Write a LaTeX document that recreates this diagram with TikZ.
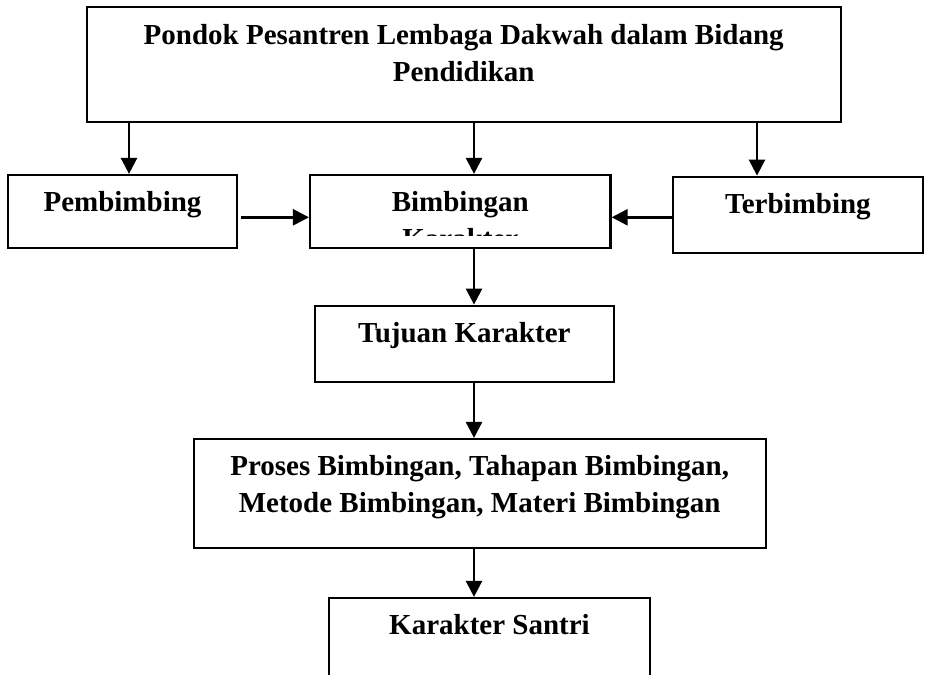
\documentclass[tikz,border=0pt]{standalone}
\usepackage{fontspec}
\setmainfont{Liberation Serif}
\usetikzlibrary{arrows.meta}
\usetikzlibrary{positioning}

\begin{document}
\begin{tikzpicture}[x=1pt, y=-1pt,
  box/.style={draw, line width=2.2pt, rectangle, inner sep=0pt},
  txt/.style={align=center, inner sep=0pt, font=\fontsize{29}{37}\selectfont\bfseries},
  arr/.style={-{Triangle[width=16pt,length=16pt]}, line width=2.5pt}]
\useasboundingbox (0,0) rectangle (925,674);
% boxes
\node[box, minimum width=754, minimum height=114.4] (Pondok) at (463.7,64.5) {};
\node[box, minimum width=228.4, minimum height=73] (Pemb) at (122.5,211.5) {};
\node[box, minimum width=300.5, minimum height=73] (Bimb) at (460.3,211.5) {};
\node[box, minimum width=250.3, minimum height=76] (Terb) at (797.9,214.7) {};
\node[box, minimum width=299.4, minimum height=76] (Tujuan) at (464.3,343.7) {};
\node[box, minimum width=572, minimum height=108.7] (Proses) at (479.7,493.4) {};
\node[box, minimum width=321, minimum height=102] (Santri) at (489.5,649) {};
% texts (two-line texts sit on their last line)
\node[txt, below=75pt of Pondok.north, anchor=base] (PondokT) {Pondok Pesantren Lembaga Dakwah dalam Bidang\\Pendidikan};
\node[txt, below=38pt of Pemb.north, anchor=base] (PembT) {Pembimbing};
\begin{scope}
\clip (Bimb.north west) rectangle ([yshift=-62pt]Bimb.north east);
\node[txt, below=75pt of Bimb.north, anchor=base] (BimbT) {Bimbingan\\Karakter};
\end{scope}
\node[txt, below=38pt of Terb.north, anchor=base] (TerbT) {Terbimbing};
\node[txt, below=38pt of Tujuan.north, anchor=base] (TujuanT) {Tujuan Karakter};
\node[txt, below=75pt of Proses.north, anchor=base] (ProsesT) {Proses Bimbingan, Tahapan Bimbingan,\\Metode Bimbingan, Materi Bimbingan};
\node[txt, below=38pt of Santri.north, anchor=base] (SantriT) {Karakter Santri};
% arrows
\coordinate (colL) at (129,0);
\coordinate (colM) at (474,0);
\coordinate (colR) at (757,0);
\coordinate (rowH) at (0,217.3);
\draw[arr] (Pondok.south -| colL) -- (Pemb.north -| colL);
\draw[arr] (Pondok.south -| colM) -- (Bimb.north -| colM);
\draw[arr] (Pondok.south -| colR) -- (Terb.north -| colR);
\draw[arr, shorten <=3pt] (Pemb.east |- rowH) -- (Bimb.west |- rowH);
\draw[arr] (Terb.west |- rowH) -- (Bimb.east |- rowH);
\draw[arr] (Bimb.south -| colM) -- (Tujuan.north -| colM);
\draw[arr] (Tujuan.south -| colM) -- (Proses.north -| colM);
\draw[arr] (Proses.south -| colM) -- (Santri.north -| colM);
\end{tikzpicture}
\end{document}
